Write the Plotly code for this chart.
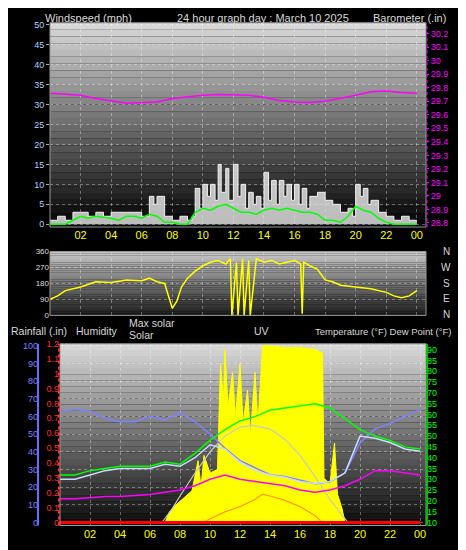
import plotly.graph_objects as go

# ---- top panel: wind + barometer ----
gust_t = [0, 0.5, 1, 1.5, 2, 2.5, 3, 3.5, 4, 4.5, 5, 5.5, 6, 6.5, 6.8, 7, 7.5, 8, 8.5, 9, 9.3, 9.5, 9.8, 10, 10.3, 10.5, 10.8,
          11, 11.2, 11.5, 11.7, 12, 12.3, 12.5, 12.8, 13, 13.3, 13.5, 13.8, 14, 14.3, 14.5, 14.8, 15, 15.3, 15.5, 15.8, 16,
          16.3, 16.5, 16.8, 17, 17.5, 18, 18.5, 19, 19.5, 19.8, 20, 20.3, 20.5, 20.8, 21, 21.5, 22, 22.5, 23, 23.5, 24]
gust = [1, 2, 1, 3, 3, 2, 3, 2, 3, 3, 3, 3, 2, 7, 5, 7, 2, 1, 2, 1, 2, 9, 4, 10, 7, 10, 6,
        15, 8, 14, 6, 15, 7, 10, 4, 8, 5, 7, 4, 13, 6, 11, 5, 11, 7, 10, 6, 10,
        5, 9, 4, 7, 8, 6, 5, 3, 4, 2, 10, 7, 9, 5, 6, 3, 2, 1, 2, 1, 1]
wind_t = [0, 1, 1.5, 2, 2.5, 3, 4, 4.5, 5, 5.5, 6, 6.5, 7, 7.5, 8, 8.5, 9, 9.5, 10, 10.5, 11, 11.5, 12, 12.5, 13, 13.5,
          14, 14.5, 15, 15.5, 16, 16.5, 17, 17.5, 18, 18.5, 19, 19.5, 20, 20.5, 21, 21.5, 22, 22.5, 23, 23.5, 24]
wind = [0, 0, 1, 2, 1.5, 2, 1.5, 1, 2, 2, 1.5, 2.5, 2, 0.5, 0.5, 0, 0, 3, 4, 3.5, 4.5, 5, 4, 3, 3, 2.5,
        3.5, 4, 3.5, 4, 3.5, 3, 3, 2.5, 1, 1, 0.5, 2, 4.5, 3.5, 3, 1.5, 0.5, 0, 0, 0, 0]
baro_t = [0, 1, 2, 3, 4, 5, 6, 7, 8, 9, 10, 11, 12, 13, 14, 15, 16, 17, 18, 19, 20, 21, 22, 23, 24]
baro = [29.76, 29.755, 29.745, 29.72, 29.70, 29.685, 29.69, 29.695, 29.72, 29.735, 29.745, 29.75, 29.745, 29.745,
        29.73, 29.705, 29.695, 29.69, 29.70, 29.72, 29.745, 29.77, 29.775, 29.765, 29.76]

# ---- middle panel: wind direction ----
dir_t = [0, 0.5, 1, 2, 3, 4, 5, 6, 6.5, 7, 7.5, 8, 8.3, 8.6, 9, 9.5, 10, 10.5, 11, 11.5, 11.8, 11.9, 12.2, 12.3, 12.6,
         12.7, 13, 13.1, 13.5, 14, 14.5, 15, 15.5, 16, 16.4, 16.5, 16.6, 17, 17.5, 18, 18.5, 19, 20, 21, 22, 22.5, 23, 23.5, 24]
wdir = [90, 110, 140, 160, 190, 185, 200, 195, 210, 190, 180, 40, 80, 160, 210, 250, 280, 300, 310, 290, 320, 0, 300, 0, 320,
        0, 310, 0, 320, 300, 310, 290, 300, 310, 290, 10, 300, 280, 260, 200, 190, 170, 160, 150, 130, 110, 100, 110, 140]

# ---- bottom panel ----
hours = [0, 1, 2, 3, 4, 5, 6, 7, 8, 9, 10, 11, 12, 13, 14, 15, 16, 17, 18, 19, 20, 21, 22, 23, 24]
humidity = [63, 64, 63, 59, 57, 57, 60, 58, 62, 57, 50, 42, 35, 31, 27, 26, 24, 22, 23, 28, 45, 53, 56, 60, 64]
temp = [32, 32, 34, 35, 36, 36, 36, 38, 37, 42, 48, 53, 57, 59, 62, 63, 64, 65, 63, 58, 53, 50, 48, 45, 44]
dewpt = [30, 30, 32, 34, 35, 35, 35, 37, 36, 40, 46, 44, 38, 34, 32, 31, 29, 28, 29, 33, 50, 49, 47, 44, 43]
indoor = [21, 21, 21.5, 22, 22, 22.5, 23, 24, 25, 27, 30, 32, 30, 29, 28, 27, 25, 24, 25, 27, 30, 34, 34, 33, 32]
rain = [0] * 25
solar_t = [0, 7, 7.3, 7.6, 8, 8.4, 8.8, 9.2, 9.4, 9.6, 10, 10.5, 10.7, 10.9, 11, 11.2, 11.5, 11.7, 12, 12.2, 12.5, 12.7,
           13, 13.2, 13.5, 14, 15, 16, 17, 17.5, 17.6, 18, 18.3, 18.5, 18.8, 19, 24]
solar = [0, 0, 60, 90, 120, 150, 180, 350, 200, 380, 280, 300, 900, 700, 980, 650, 850, 600, 900, 560, 750, 500,
         850, 560, 1000, 1000, 990, 990, 980, 960, 250, 220, 450, 160, 80, 0, 0]
maxsol_t = [6.8, 7.5, 8, 9, 10, 11, 12, 12.8, 14, 15, 16, 17, 18, 19, 19.2]
maxsol = [0, 80, 150, 280, 400, 490, 540, 550, 530, 470, 380, 260, 130, 20, 0]
uv_t = [9.5, 10, 11, 12, 12.5, 13, 13.5, 14, 15, 16, 17, 17.5]
uv = [0, 20, 60, 90, 110, 130, 160, 150, 125, 90, 40, 0]

hour_ticks = [2, 4, 6, 8, 10, 12, 14, 16, 18, 20, 22, 24]
hour_text = ["02", "04", "06", "08", "10", "12", "14", "16", "18", "20", "22", "00"]

W, H = 466, 550
FONT = "Liberation Sans"


def py(px):
    return 1 - px / H


def px_x(px):
    return px / W


fig = go.Figure()

# gradient backgrounds
shapes = []
for (x0, x1, top, bot, c_top, c_bot) in [(42, 418, 10, 218, 215, 5), (42, 418, 243, 308, 200, 30),
                                        (52, 418, 337, 522, 215, 15)]:
    n = 30
    for i in range(n):
        g = int(c_top + (c_bot - c_top) * i / (n - 1))
        shapes.append(dict(type="rect", xref="paper", yref="paper", layer="below",
                           x0=px_x(x0), x1=px_x(x1),
                           y0=py(top + (bot - top) * (i + 1) / n), y1=py(top + (bot - top) * i / n),
                           fillcolor=f"rgb({g},{g},{g})", line=dict(width=0)))
    shapes.append(dict(type="rect", xref="paper", yref="paper", x0=px_x(x0), x1=px_x(x1), y0=py(bot), y1=py(top),
                       line=dict(color="#999", width=1)))
# axis lines
shapes.append(dict(type="line", xref="paper", yref="paper", x0=px_x(30), x1=px_x(30), y0=py(522), y1=py(337),
                   line=dict(color="#6a6aff", width=2)))
shapes.append(dict(type="line", xref="paper", yref="paper", x0=px_x(51), x1=px_x(51), y0=py(522), y1=py(337),
                   line=dict(color="#ff3030", width=2, dash="dot")))
shapes.append(dict(type="line", xref="paper", yref="paper", x0=px_x(419), x1=px_x(419), y0=py(522), y1=py(337),
                   line=dict(color="#00c000", width=2)))
shapes.append(dict(type="line", xref="paper", yref="paper", x0=px_x(419), x1=px_x(419), y0=py(218), y1=py(10),
                   line=dict(color="#ff00ff", width=1, dash="dot")))

# top traces
fig.add_trace(go.Scatter(x=gust_t, y=gust, mode="lines", line=dict(color="#f0f0f0", width=1, shape="hv"),
                         fill="tozeroy", fillcolor="rgba(235,235,235,0.8)", xaxis="x", yaxis="y"))
fig.add_trace(go.Scatter(x=wind_t, y=wind, mode="lines", line=dict(color="#00ff00", width=1.5), xaxis="x", yaxis="y"))
fig.add_trace(go.Scatter(x=baro_t, y=baro, mode="lines", line=dict(color="#ff00ff", width=1.5), xaxis="x", yaxis="y2"))
# middle
fig.add_trace(go.Scatter(x=dir_t, y=wdir, mode="lines", line=dict(color="#ffff00", width=1.5), xaxis="x2", yaxis="y3"))
# bottom: solar group on the base axis so the other lines draw above it
fig.add_trace(go.Scatter(x=solar_t, y=solar, mode="lines", line=dict(color="#ffff00", width=1),
                         fill="tozeroy", fillcolor="#ffff00", xaxis="x3", yaxis="y4"))
fig.add_trace(go.Scatter(x=maxsol_t, y=maxsol, mode="lines", line=dict(color="#c8c8c8", width=1.2), xaxis="x3", yaxis="y4"))
fig.add_trace(go.Scatter(x=uv_t, y=uv, mode="lines", line=dict(color="#ff9900", width=1.2), xaxis="x3", yaxis="y4"))
fig.add_trace(go.Scatter(x=hours, y=humidity, mode="lines", line=dict(color="#8080ff", width=1.5), xaxis="x3", yaxis="y5"))
fig.add_trace(go.Scatter(x=hours, y=rain, mode="lines", line=dict(color="#ff0000", width=3), xaxis="x3", yaxis="y6"))
fig.add_trace(go.Scatter(x=hours, y=dewpt, mode="lines", line=dict(color="#c8dcff", width=1.5), xaxis="x3", yaxis="y7"))
fig.add_trace(go.Scatter(x=hours, y=temp, mode="lines", line=dict(color="#00ff00", width=1.5), xaxis="x3", yaxis="y7"))
fig.add_trace(go.Scatter(x=hours, y=indoor, mode="lines", line=dict(color="#ff00ff", width=1.5), xaxis="x3", yaxis="y7"))

grid = dict(showgrid=True, gridcolor="rgba(255,255,255,0.35)", griddash="dot", gridwidth=1, zeroline=False)
tickf = dict(family=FONT, size=9)
xcommon = dict(grid, tickvals=hour_ticks, ticktext=hour_text, ticks="", tickfont=dict(family=FONT, size=11, color="#ffff00"))

fig.update_layout(
    width=W, height=H, margin=dict(l=0, r=0, t=0, b=0),
    paper_bgcolor="#000", plot_bgcolor="rgba(0,0,0,0)", showlegend=False, shapes=shapes,
    xaxis=dict(xcommon, domain=[px_x(42), px_x(418)], range=[0, 24.6], anchor="y"),
    xaxis2=dict(xcommon, domain=[px_x(42), px_x(418)], range=[0, 24.6], anchor="y3", showticklabels=False),
    xaxis3=dict(xcommon, domain=[px_x(52), px_x(418)], range=[0, 24.4], anchor="y4"),
    yaxis=dict(grid, domain=[py(218), py(10)], range=[-0.7, 50.5], dtick=5, tickfont=dict(tickf, color="#b4d0ff"),
               ticks="outside", ticklen=3, tickcolor="#aaa"),
    yaxis2=dict(overlaying="y", side="right", range=[28.77, 30.28], dtick=0.1, showgrid=False, zeroline=False,
                tickfont=dict(tickf, color="#ff00ff"), ticks="outside", ticklen=2, tickcolor="#ff00ff"),
    yaxis3=dict(grid, domain=[py(308), py(243)], range=[0, 360], tickvals=[0, 90, 180, 270, 360],
                tickfont=dict(tickf, size=8, color="#dddddd")),
    yaxis4=dict(domain=[py(522), py(337)], range=[-17, 1011], showticklabels=False, showgrid=False, zeroline=False),
    yaxis5=dict(grid, overlaying="y4", range=[-1.7, 101.1], dtick=10, anchor="free", position=px_x(30),
                tickfont=dict(tickf, color="#8080ff")),
    yaxis6=dict(overlaying="y4", range=[-0.02, 1.2], dtick=0.1, anchor="free", position=px_x(51), showgrid=False,
                zeroline=False, tickfont=dict(tickf, color="#ff3030")),
    yaxis7=dict(overlaying="y4", side="right", range=[8.6, 92.7], dtick=5, showgrid=False, zeroline=False,
                anchor="x3", tickfont=dict(tickf, color="#00ff00")),
)

anns = [
    ("Windspeed (mph)", 35, 5, "left", 11), ("24 hour graph day : March 10 2025", 255, 5, "center", 11),
    ("Barometer (.in)", 440, 5, "right", 11),
    ("Rainfall (.in)", 1, 324, "left", 10.5), ("Humidity", 66, 324, "left", 10.5), ("Max solar", 119, 316, "left", 10.5),
    ("Solar", 119, 328, "left", 10.5), ("UV", 253, 324, "center", 10.5),
    ("Temperature (°F) Dew Point (°F)", 305, 324, "left", 9.5),
]
compass = ["N", "W", "S", "E", "N"]
for i, c in enumerate(compass):
    anns.append((c, 438, 243 + 16 * i, "center", 10))
fig.update_layout(annotations=[
    dict(text=t, x=px_x(x), y=py(y), xref="paper", yref="paper", xanchor=a, yanchor="middle", showarrow=False,
         font=dict(family=FONT, size=s, color="#d8d8d8"))
    for t, x, y, a, s in anns
])

fig.write_html("out.html")
